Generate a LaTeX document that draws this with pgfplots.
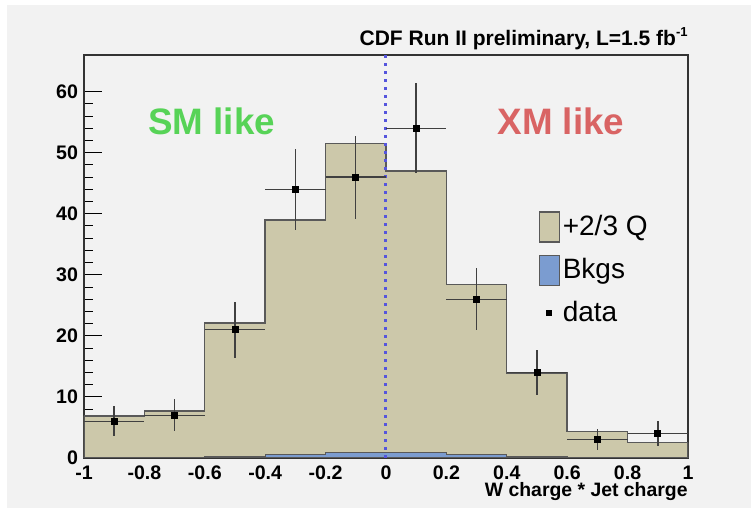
\documentclass[border=0pt]{standalone}
\usepackage{pgfplots}
\pgfplotsset{compat=1.18}
\usepackage{pgfplotstable}
\usepackage{fontspec}
\setmainfont{Liberation Sans}

\definecolor{bgcol}{HTML}{F2F2F2}
\definecolor{tancol}{HTML}{CCC8AA}
\definecolor{bkgcol}{HTML}{7B9CD0}
\definecolor{smgreen}{HTML}{57D357}
\definecolor{xmred}{HTML}{D96464}
\definecolor{zeroline}{HTML}{5555DD}

% data points: bin centre, count, half bin width, error
\pgfplotstableread{
x    y   ex   ey
-0.9 6   0.1  2.45
-0.7 7   0.1  2.65
-0.5 21  0.1  4.58
-0.3 44  0.1  6.63
-0.1 46  0.1  6.78
0.1  54  0.1  7.35
0.3  26  0.1  5.10
0.5  14  0.1  3.74
0.7  3   0.1  1.73
0.9  4   0.1  2.00
}\datatable

\begin{document}
\begin{tikzpicture}
\path[use as bounding box] (0,0) rectangle (375.5pt,254pt);
\fill[white] (0,0) rectangle (375.5pt,254pt);
\fill[bgcol] (3.5pt,0) rectangle (375.5pt,251.5pt);
\begin{axis}[
    at={(42pt,25pt)}, anchor=south west,
    scale only axis,
    width=302pt, height=201.5pt,
    xmin=-1, xmax=1, ymin=0, ymax=66,
    clip mode=individual,
    axis background/.style={fill=bgcol},
    axis line style={draw=black!80, line width=0.6pt},
    xtick={-1,-0.8,-0.6,-0.4,-0.2,0,0.2,0.4,0.6,0.8,1},
    ytick={0,10,20,30,40,50,60},
    minor x tick num=4, minor y tick num=4,
    tick align=inside,
    xtick pos=left, ytick pos=left,
    major tick length=9pt, minor tick length=4.5pt,
    x tick style={/pgfplots/major tick length=6pt, /pgfplots/minor tick length=3pt},
    tick style={black, line width=0.5pt},
    /pgf/number format/assume math mode=true,
    ticklabel style={font=\bfseries\fontsize{9.8}{11}\selectfont},
    yticklabel style={xshift=0.5pt},
    xticklabel style={yshift=-0.5pt},
    legend style={at={(0.752,0.613)}, anchor=north west, draw=none, fill=none,
        font=\fontsize{14}{16}\selectfont, row sep=6pt, inner sep=0pt,
        nodes={inner sep=1.5pt}},
    legend cell align=left,
]
\addplot[const plot mark left, fill=tancol, draw=black!65, line width=0.7pt,
    legend image code/.code={\draw[draw=black!65, fill=tancol, line width=0.6pt] (0pt,-7.5pt) rectangle (10pt,7.5pt);}]
    coordinates {(-1,6.9) (-0.8,7.7) (-0.6,22.1) (-0.4,39.0) (-0.2,51.5)
                 (0,47.0) (0.2,28.4) (0.4,13.9) (0.6,4.3) (0.8,2.5) (1,2.5)} \closedcycle;
\addlegendentry{+2/3 Q}
\addplot[const plot mark left, fill=bkgcol, draw=black!65, line width=0.5pt,
    legend image code/.code={\draw[draw=black!65, fill=bkgcol, line width=0.6pt] (0pt,-7.5pt) rectangle (10pt,7.5pt);}]
    coordinates {(-1,0.1) (-0.8,0.15) (-0.6,0.3) (-0.4,0.65) (-0.2,0.9)
                 (0,0.9) (0.2,0.65) (0.4,0.3) (0.6,0.15) (0.8,0.1) (1,0.1)} \closedcycle;
\addlegendentry{Bkgs}
\addplot[forget plot, zeroline, line width=1.5pt, dash pattern=on 1.4pt off 2.6pt]
    coordinates {(0,0) (0,66)};
\addplot[only marks, mark=square*, mark size=1.5pt, black,
    legend image code/.code={\fill[black] (3.7pt,-1.3pt) rectangle (6.3pt,1.3pt); \path (0pt,-7.5pt) (10pt,7.5pt);},
    error bars/.cd, x dir=both, x explicit, y dir=both, y explicit,
    error mark=none, error bar style={line width=0.7pt, draw=black!75}]
    table[x=x, y=y, x error=ex, y error=ey] {\datatable};
\addlegendentry{data}

\node[font=\bfseries\fontsize{18.4}{20}\selectfont, text=smgreen] at (axis cs:-0.577,55.1) {SM like};
\node[font=\bfseries\fontsize{18.4}{20}\selectfont, text=xmred] at (axis cs:0.579,55.1) {XM like};
\node[anchor=base east, inner sep=0pt, yshift=4.5pt, font=\bfseries\fontsize{10.5}{12}\selectfont]
    at (rel axis cs:1,1) {CDF Run II preliminary, L=1.5 fb\raisebox{0.85ex}{\fontsize{6.5}{7}\selectfont -1}};
\node[anchor=base east, inner sep=0pt, yshift=-19.5pt, font=\bfseries\fontsize{9.7}{11}\selectfont]
    at (rel axis cs:1,0) {W charge * Jet charge};
\end{axis}
\end{tikzpicture}
\end{document}
